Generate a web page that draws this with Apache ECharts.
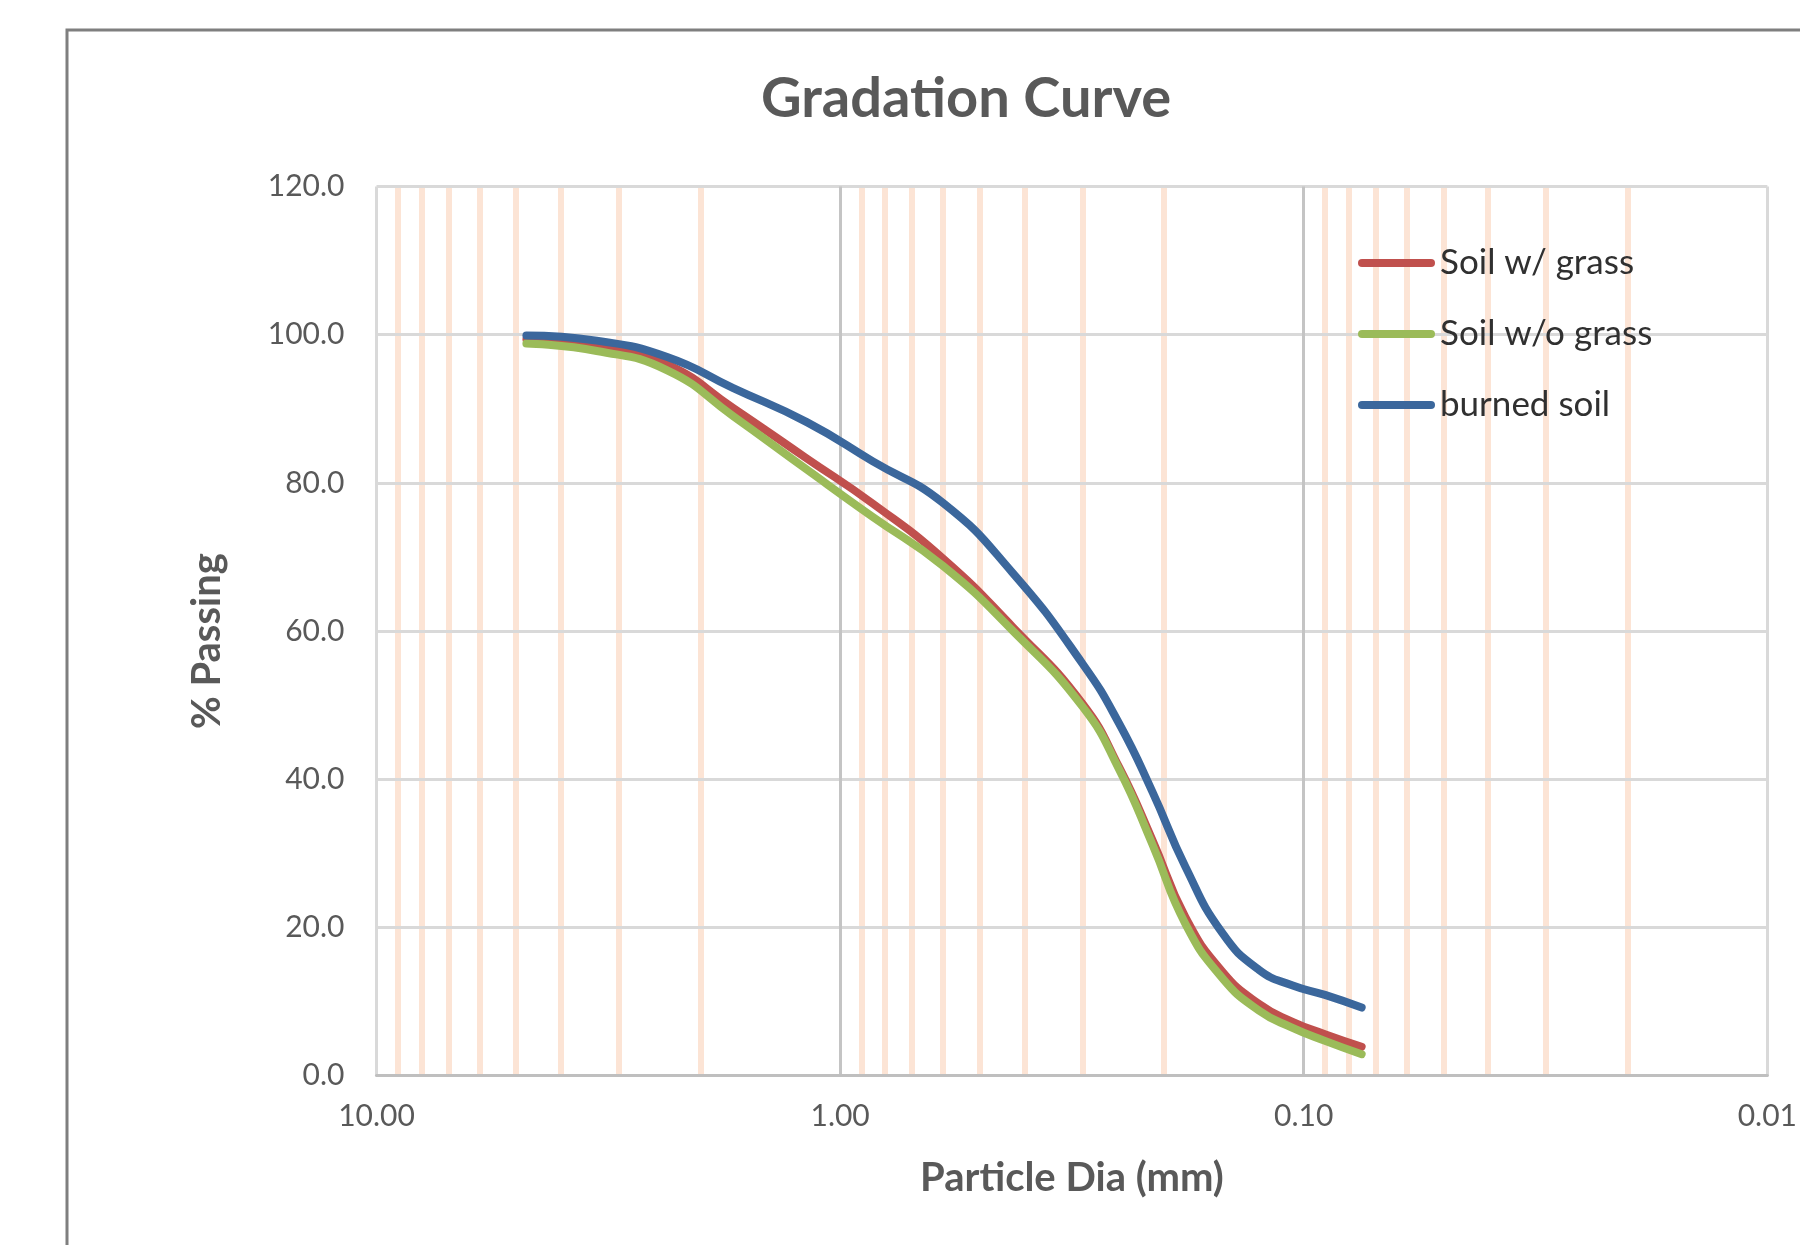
<!DOCTYPE html>
<html>
<head>
<meta charset="utf-8">
<script src="https://cdn.jsdelivr.net/npm/echarts@6/dist/echarts.min.js"></script>
<style>
html,body{margin:0;padding:0;background:#ffffff;}
#c{width:1800px;height:1245px;}
</style>
</head>
<body>
<div id="c"></div>
<script>
// ---- data ----
const sieveSizes = [4.75, 3.35, 2.36, 1.7, 1.18, 0.85, 0.6, 0.425, 0.3, 0.25, 0.212, 0.18, 0.15, 0.125, 0.106, 0.09, 0.075];
const soilWithGrass    = [99.4, 98.6, 96.0, 90.1, 83.3, 77.2, 69.8, 60.6, 50.2, 41.6, 31.8, 21.4, 14.1, 9.7, 7.3, 5.6, 3.9];
const soilWithoutGrass = [98.8, 97.8, 95.2, 89.0, 81.8, 75.4, 68.8, 60.1, 49.8, 41.3, 31.2, 20.5, 13.2, 8.8, 6.5, 4.7, 2.9];
const burnedSoil       = [99.9, 99.2, 97.0, 92.8, 88.2, 82.9, 77.3, 67.9, 55.6, 47.5, 38.3, 28.2, 19.3, 14.3, 12.2, 10.9, 9.2];
const seriesNames  = ['Soil w/ grass', 'Soil w/o grass', 'burned soil'];
const seriesColors = ['#c0504d', '#9bbb59', '#3b679c'];
// minor (log) gridline positions, mm
const minorGridValues = [9, 8, 7, 6, 5, 4, 3, 2,
                         0.9, 0.8, 0.7, 0.6, 0.5, 0.4, 0.3, 0.2,
                         0.09, 0.08, 0.07, 0.06, 0.05, 0.04, 0.03, 0.02];
const xRange = [0.01, 10];
const yRange = [0, 120];
const yStep = 20;

const FONT = 'Lato';
const pairs = vals => sieveSizes.map((s, i) => [s, vals[i]]);
const seriesValues = [soilWithGrass, soilWithoutGrass, burnedSoil];

const chart = echarts.init(document.getElementById('c'), null, { renderer: 'canvas' });

const dataSeries = seriesNames.map((name, i) => ({
  type: 'line',
  name: name,
  data: pairs(seriesValues[i]),
  smooth: 0.5,
  symbol: 'none',
  z: 3,
  lineStyle: { color: seriesColors[i], width: 8, cap: 'round', join: 'round' },
  itemStyle: { color: seriesColors[i] }
}));

const option = {
  backgroundColor: '#ffffff',
  animation: false,
  title: {
    text: 'Gradation Curve',
    left: 961,
    top: 66,
    textAlign: 'center',
    textStyle: { fontFamily: FONT, fontSize: 56, fontWeight: 'bold', color: '#595959' }
  },
  legend: {
    orient: 'vertical',
    left: 1353,
    top: 238,
    itemWidth: 77,
    itemHeight: 8,
    itemGap: 31,
    icon: 'path://M4,0 L73,0 A4,4 0 0 1 73,8 L4,8 A4,4 0 0 1 4,0 Z',
    data: seriesNames,
    textStyle: { fontFamily: FONT, fontSize: 35, color: '#303030', lineHeight: 40 }
  },
  graphic: [{
    type: 'rect',
    silent: true,
    z: -10,
    shape: { x: 67, y: 30, width: 1800, height: 1300 },
    style: { fill: 'none', stroke: '#7f7f7f', lineWidth: 3 }
  }],
  grid: { left: 376.5, top: 186.5, right: 31, bottom: 169.3 },
  xAxis: {
    type: 'log',
    logBase: 10,
    min: xRange[0],
    max: xRange[1],
    inverse: true,
    z: 1,
    name: 'Particle Dia (mm)',
    nameLocation: 'middle',
    nameGap: 82,
    nameTextStyle: { fontFamily: FONT, fontSize: 40, fontWeight: 'bold', color: '#595959' },
    axisLine: { show: true, lineStyle: { color: '#bfbfbf', width: 3 } },
    axisTick: { show: false },
    axisLabel: {
      formatter: v => Number(v).toFixed(2),
      fontFamily: FONT, fontSize: 30, color: '#595959', margin: 26
    },
    splitLine: { show: true, lineStyle: { color: ['#d9d9d9', '#c4c4c4', '#c4c4c4', '#d9d9d9'], width: 3 } }
  },
  yAxis: {
    type: 'value',
    min: yRange[0],
    max: yRange[1],
    interval: yStep,
    z: 1,
    name: '% Passing',
    nameLocation: 'middle',
    nameRotate: 90,
    nameGap: 149,
    nameTextStyle: { fontFamily: FONT, fontSize: 40, fontWeight: 'bold', color: '#595959', padding: [0, 20, 0, 0] },
    axisLine: { show: false },
    axisTick: { show: false },
    axisLabel: {
      formatter: v => Number(v).toFixed(1),
      fontFamily: FONT, fontSize: 30, color: '#595959', margin: 32
    },
    splitLine: { show: true, lineStyle: { color: '#d9d9d9', width: 3 } }
  },
  series: [{
    type: 'line',
    name: '_minorGrid',
    data: [],
    silent: true,
    z: 0,
    markLine: {
      z: 0.5,
      silent: true,
      animation: false,
      symbol: ['none', 'none'],
      label: { show: false },
      emphasis: { disabled: true },
      lineStyle: { color: '#fce4d5', width: 6, type: 'solid' },
      data: minorGridValues.map(v => ({ xAxis: v }))
    }
  }].concat(dataSeries)
};

chart.setOption(option);
</script>
</body>
</html>
